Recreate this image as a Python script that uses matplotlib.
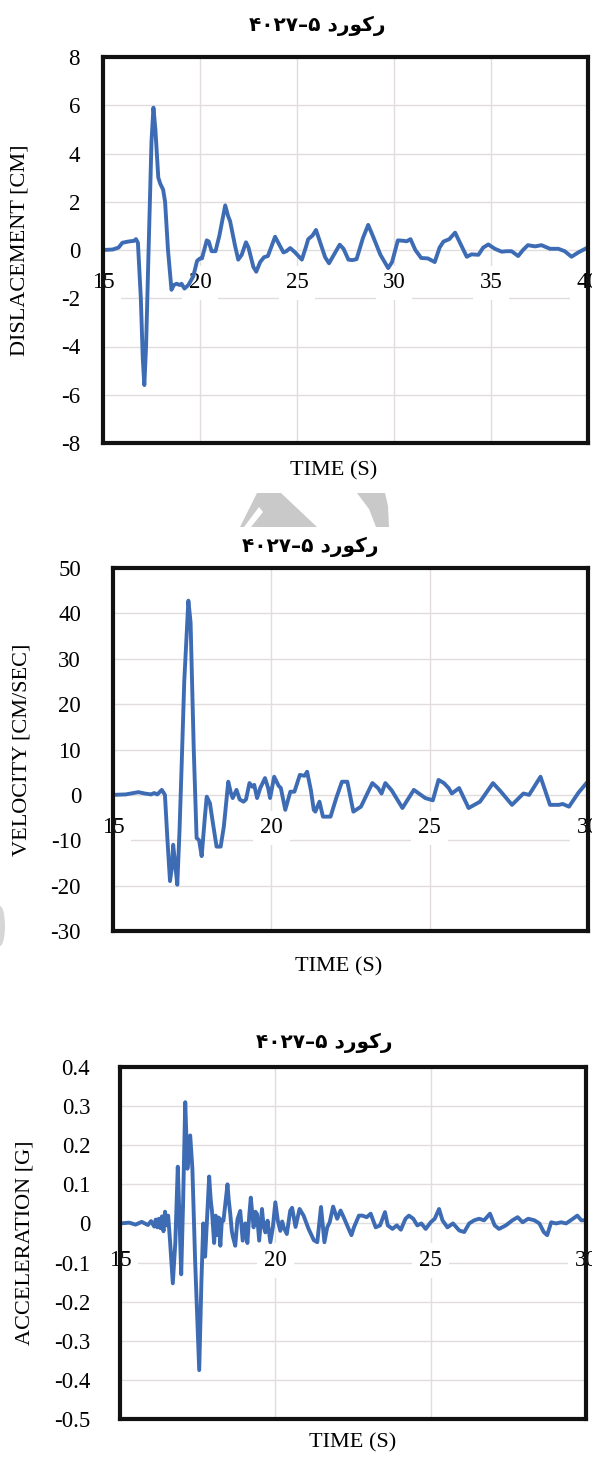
import matplotlib
matplotlib.use("Agg")
import matplotlib.pyplot as plt
from matplotlib.patches import Polygon, Ellipse

plt.rcParams['font.family'] = 'Liberation Serif'

# record title (visual order, Persian)
TITLE = "\u06F4\u06F0\u06F2\u06F7\u2013\u06F5 \uFEA9\uFEAD\uFEEE\uFB90\uFEAD"

# displacement record
disp_t = [15.0, 15.5, 15.8, 16.0, 16.3, 16.6, 16.7, 16.8, 16.95, 17.05, 17.13, 17.22,
          17.35, 17.5, 17.6, 17.7, 17.85, 17.95, 18.1, 18.2, 18.35, 18.53, 18.65, 18.8,
          18.95, 19.05, 19.2, 19.4, 19.65, 19.85, 20.0, 20.1, 20.35, 20.45, 20.6, 20.8,
          21.0, 21.3, 21.45, 21.55, 21.8, 21.97, 22.15, 22.37, 22.5, 22.75, 22.9, 23.1,
          23.3, 23.5, 23.87, 24.1, 24.3, 24.45, 24.65, 24.9, 25.25, 25.45, 25.58, 25.8,
          25.98, 26.2, 26.45, 26.65, 26.9, 27.2, 27.4, 27.65, 27.85, 28.07, 28.4, 28.67,
          28.9, 29.3, 29.7, 29.9, 30.2, 30.5, 30.65, 30.85, 31.1, 31.4, 31.75, 32.1,
          32.35, 32.55, 32.85, 33.15, 33.4, 33.75, 34.0, 34.35, 34.6, 34.86, 35.2, 35.55,
          35.8, 36.06, 36.4, 36.65, 36.9, 37.27, 37.6, 38.04, 38.47, 38.8, 39.15, 39.5,
          39.93, 40.0]
disp_v = [0.0, 0.02, 0.1, 0.3, 0.35, 0.38, 0.45, 0.3, -2.0, -4.5, -5.6, -4.0,
          0.0, 4.5, 5.9, 5.0, 3.0, 2.75, 2.5, 2.0, 0.0, -1.65, -1.45, -1.4,
          -1.45, -1.4, -1.6, -1.45, -1.1, -0.45, -0.35, -0.35, 0.4, 0.35, -0.05, -0.05,
          0.6, 1.85, 1.4, 1.2, 0.2, -0.4, -0.2, 0.32, 0.1, -0.7, -0.9, -0.5,
          -0.3, -0.25, 0.55, 0.2, -0.1, -0.05, 0.08, -0.1, -0.4, 0.1, 0.45, 0.6,
          0.83, 0.3, -0.3, -0.55, -0.2, 0.22, 0.05, -0.4, -0.42, -0.38, 0.5, 1.04,
          0.6, -0.2, -0.75, -0.5, 0.4, 0.38, 0.36, 0.45, 0.0, -0.33, -0.35, -0.5,
          0.1, 0.35, 0.45, 0.72, 0.3, -0.28, -0.18, -0.2, 0.1, 0.23, 0.05, -0.07,
          -0.05, -0.05, -0.25, 0.0, 0.2, 0.15, 0.2, 0.05, 0.05, -0.05, -0.28, -0.1,
          0.08, 0.1]

# velocity record
vel_t = [15.0, 15.4, 15.8, 16.0, 16.2, 16.3, 16.4, 16.54, 16.64, 16.72, 16.8, 16.86,
         16.9, 16.96, 17.03, 17.1, 17.17, 17.25, 17.38, 17.45, 17.55, 17.64, 17.72, 17.8,
         17.9, 17.96, 18.06, 18.15, 18.27, 18.4, 18.5, 18.64, 18.72, 18.78, 18.9, 19.0,
         19.12, 19.2, 19.31, 19.4, 19.46, 19.55, 19.65, 19.8, 19.9, 19.96, 20.09, 20.23,
         20.3, 20.44, 20.6, 20.73, 20.9, 21.05, 21.13, 21.25, 21.34, 21.39, 21.52, 21.63,
         21.87, 22.05, 22.23, 22.4, 22.59, 22.83, 23.19, 23.37, 23.48, 23.6, 23.8, 24.14,
         24.5, 24.86, 25.1, 25.28, 25.45, 25.6, 25.7, 25.93, 26.23, 26.59, 26.77, 27.0,
         27.25, 27.6, 27.96, 28.14, 28.5, 28.8, 29.08, 29.2, 29.4, 29.7, 30.0]
vel_v = [0.0, 0.1, 0.6, 0.3, 0.1, 0.4, 0.1, 1.1, 0.0, -10.0, -19.0, -16.0,
         -11.0, -15.0, -19.8, -8.0, 7.0, 25.0, 42.8, 38.0, 10.0, -9.5, -10.0, -13.5,
         -5.0, -0.4, -1.8, -6.0, -11.4, -11.4, -7.0, 2.9, 0.5, -0.7, 1.1, -1.0,
         -1.5, -1.0, 2.6, 1.8, 2.2, -0.7, 1.5, 3.7, 1.5, -0.7, 4.0, 2.0,
         1.5, -3.3, 0.7, 0.7, 4.4, 4.2, 5.1, 1.0, -3.3, -3.7, -1.5, -4.8,
         -4.8, -0.7, 2.9, 2.9, -3.7, -2.6, 2.6, 1.5, 0.3, 2.6, 1.0, -2.9,
         1.1, -0.7, -1.2, 3.3, 2.6, 1.5, 0.3, 1.5, -2.9, -1.5, 0.3, 2.6,
         0.7, -2.2, 0.3, 0.0, 4.0, -2.2, -2.2, -2.0, -2.6, 0.5, 3.0]

# acceleration record
acc_t = [15.0, 15.3, 15.5, 15.7, 15.9, 16.0, 16.1, 16.15, 16.2, 16.25, 16.3, 16.35,
         16.4, 16.45, 16.5, 16.55, 16.61, 16.7, 16.78, 16.86, 16.92, 16.97, 17.03, 17.1,
         17.17, 17.26, 17.33, 17.42, 17.55, 17.62, 17.68, 17.74, 17.8, 17.87, 17.92, 17.96,
         18.03, 18.08, 18.12, 18.18, 18.23, 18.28, 18.33, 18.46, 18.5, 18.55, 18.6, 18.64,
         18.71, 18.78, 18.87, 18.95, 19.03, 19.1, 19.16, 19.21, 19.3, 19.36, 19.41, 19.48,
         19.57, 19.62, 19.68, 19.75, 19.84, 19.92, 20.0, 20.08, 20.16, 20.22, 20.27, 20.37,
         20.48, 20.54, 20.65, 20.78, 20.91, 21.07, 21.24, 21.35, 21.47, 21.58, 21.67,
         21.75, 21.86, 21.99, 22.1, 22.2, 22.36, 22.45, 22.53, 22.69, 22.8, 22.94, 23.07,
         23.23, 23.37, 23.53, 23.62, 23.77, 23.91, 24.04, 24.19, 24.3, 24.44, 24.57, 24.7,
         24.84, 25.0, 25.13, 25.27, 25.38, 25.54, 25.72, 25.92, 26.08, 26.24, 26.4, 26.56,
         26.72, 26.91, 27.06, 27.2, 27.42, 27.63, 27.8, 27.96, 28.14, 28.34, 28.5, 28.64,
         28.75, 28.88, 29.04, 29.2, 29.36, 29.58, 29.72, 29.85, 30.0]
acc_v = [0.0, 0.002, -0.003, 0.004, -0.004, 0.006, -0.008, 0.01, -0.01, 0.012, -0.012, 0.018,
         -0.02, 0.03, -0.005, 0.02, -0.044, -0.153, -0.05, 0.145, 0.0, -0.13, 0.05, 0.31,
         0.14, 0.225, 0.14, -0.1, -0.375, -0.15, 0.0, -0.085, 0.01, 0.12, 0.06, 0.032,
         -0.05, 0.02, -0.03, 0.015, -0.057, 0.01, 0.007, 0.1, 0.06, 0.024, -0.02, -0.036,
         -0.057, 0.01, 0.032, -0.044, 0.0, -0.05, 0.02, 0.066, -0.01, 0.03, 0.024, -0.044,
         0.037, -0.005, -0.023, 0.007, -0.048, -0.01, 0.054, 0.007, -0.019, 0.005, -0.01, -0.027,
         0.033, 0.04, -0.009, 0.037, 0.02, -0.014, -0.043, -0.048, 0.042, -0.048, -0.01,
         0.003, 0.043, 0.012, 0.033, 0.016, -0.014, -0.03, -0.01, 0.02, 0.02, 0.016, 0.025,
         -0.01, -0.005, 0.029, -0.005, -0.014, -0.005, -0.016, 0.012, 0.02, 0.012, -0.005, 0.0,
         -0.014, 0.003, 0.012, 0.037, 0.008, -0.01, 0.0, -0.018, -0.022, 0.0, 0.008, 0.012,
         0.008, 0.025, -0.005, -0.014, -0.005, 0.008, 0.016, 0.003, 0.012, 0.008, 0.0, -0.022,
         -0.03, 0.003, 0.0, 0.003, 0.0, 0.012, 0.02, 0.008, 0.008]

disp_yticks = [-8, -6, -4, -2, 0, 2, 4, 6, 8]
vel_yticks = [-30, -20, -10, 0, 10, 20, 30, 40, 50]
acc_yticks = [-0.5, -0.4, -0.3, -0.2, -0.1, 0, 0.1, 0.2, 0.3, 0.4]
disp_xticks = [15, 20, 25, 30, 35, 40]
short_xticks = [15, 20, 25, 30]

LINE = '#3D6CB4'
GRID = '#E2DCDC'
FS_TICK = 16.5
FS_LAB = 16

W, H = 592, 1458
fig = plt.figure(figsize=(W / 100, H / 100), dpi=100)


def fx(x):
    return x / W


def fy(y):
    return 1 - y / H


# faint watermark pieces between the panels
for pts, col in [([(257, 493), (281, 493), (317, 527), (240, 527)], '#C9C9C9'),
                 ([(259, 507), (263, 512), (251, 527), (244, 527)], 'white'),
                 ([(357, 493), (385, 493), (388, 506), (389, 527), (376, 527), (369, 509)], '#C9C9C9')]:
    fig.patches.append(Polygon([(fx(a), fy(b)) for a, b in pts], closed=True,
                               transform=fig.transFigure, fc=col, ec='none', zorder=0))
fig.patches.append(Ellipse((0, fy(926)), 10 / W, 40 / H, transform=fig.transFigure,
                           fc='#D6D6D6', ec='none', zorder=0))


def panel(box, t, v, xticks, yticks, ylabel, pad, off, xlab_pos, ylab_x):
    l, r, top, bot = box
    ax = fig.add_axes([fx(l), fy(bot), (r - l) / W, (bot - top) / H])
    ax.plot(t, v, color=LINE, lw=2.8, zorder=3, solid_joinstyle='round')
    ax.set_xlim(xticks[0], xticks[-1])
    ax.set_ylim(yticks[0], yticks[-1])
    ax.set_yticks(yticks)
    ax.set_yticklabels([f"{y:g}" for y in yticks])
    ax.set_xticks(xticks)
    ax.set_xticklabels([])
    ax.tick_params(length=0, labelsize=FS_TICK, pad=pad)
    ax.grid(True, color=GRID, lw=1.0, zorder=0)
    ax.set_axisbelow(True)
    for s in ax.spines.values():
        s.set_linewidth(3)
        s.set_color('#111111')
        s.set_zorder(5)
    for xt in xticks:
        ax.annotate(f"{xt:g}", xy=(xt, 0), xytext=(0, -off), textcoords='offset pixels',
                    ha='center', va='center', fontsize=FS_TICK, zorder=2.5, annotation_clip=False,
                    bbox=dict(boxstyle='square,pad=0.3', fc='white', ec='none'))
    ax.set_ylabel(ylabel, fontsize=FS_LAB)
    ax.yaxis.set_label_coords(ylab_x, 0.5)
    ax.text(xlab_pos[0], xlab_pos[1], 'TIME (S)', transform=ax.transAxes,
            ha='center', va='center', fontsize=FS_LAB)
    return ax


panel((103, 588, 57, 443), disp_t, disp_v, disp_xticks, disp_yticks,
      'DISLACEMENT [CM]', 16.5, 33, (0.476, -0.0725), -0.152)
panel((113, 588, 568, 931), vel_t, vel_v, short_xticks, vel_yticks,
      'VELOCITY [CM/SEC]', 23, 33, (0.474, -0.099), -0.172)
panel((120, 586, 1067, 1419), acc_t, acc_v, short_xticks, acc_yticks,
      'ACCELERATION [G]', 21.5, 37, (0.5, -0.068), -0.183)

for x, y in [(317, 26), (310, 547), (324, 1043)]:
    fig.text(fx(x), fy(y), TITLE, ha='center', va='center', fontsize=14.5,
             fontweight='bold', family=['DejaVu Sans', 'Noto Sans'])

fig.savefig('out.png', dpi=100)
